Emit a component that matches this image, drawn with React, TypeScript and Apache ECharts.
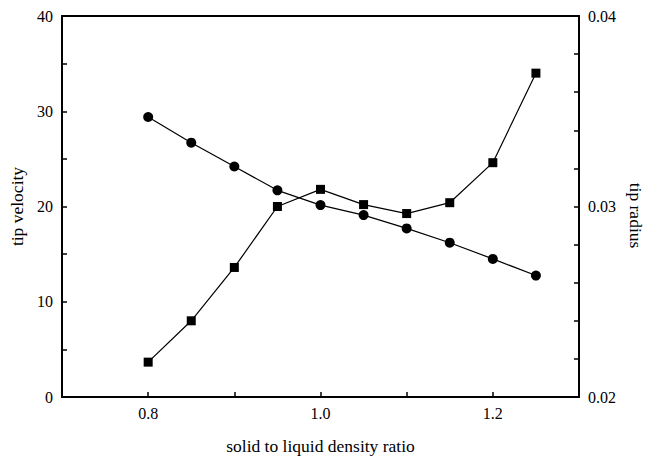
import React, { useEffect, useRef } from "react";
import * as echarts from "echarts";

const densityRatio = [0.8, 0.85, 0.9, 0.95, 1.0, 1.05, 1.1, 1.15, 1.2, 1.25];
const tipVelocity = [29.4, 26.7, 24.2, 21.7, 20.15, 19.1, 17.7, 16.2, 14.5, 12.75];
const tipRadius = [0.02183, 0.024, 0.0268, 0.03, 0.0309, 0.0301, 0.02963, 0.0302, 0.0323, 0.037];
const xLabels = ["0.8", "1.0", "1.2"];

const font = "Liberation Serif, Times New Roman, serif";

export default function App() {
  const ref = useRef<HTMLDivElement>(null);
  useEffect(() => {
    if (!ref.current) return;
    const chart = echarts.init(ref.current, null, { renderer: "svg" });
    const axisLine = { show: true, lineStyle: { color: "#000", width: 2 } };
    chart.setOption({
      animation: false,
      backgroundColor: "#fff",
      grid: { left: 62, right: 68, top: 16, bottom: 62, containLabel: false, outerBoundsMode: "none" },
      xAxis: [
        {
          type: "value",
          min: 0.7,
          max: 1.3,
          interval: 0.1,
          axisLine,
          axisTick: { show: true, inside: true, length: 5, lineStyle: { color: "#000", width: 1.5 } },
          splitLine: { show: false },
          axisLabel: {
            color: "#000",
            fontFamily: font,
            fontSize: 16,
            margin: 8,
            formatter: (v: number) => {
              const s = v.toFixed(1);
              return xLabels.includes(s) ? s : "";
            },
          },
          name: "solid to liquid density ratio",
          nameLocation: "middle",
          nameGap: 40,
          nameTextStyle: { color: "#000", fontFamily: font, fontSize: 17.5 },
        },
        {
          type: "value",
          position: "top",
          min: 0.7,
          max: 1.3,
          axisLine,
          axisTick: { show: false },
          axisLabel: { show: false },
          splitLine: { show: false },
        },
      ],
      yAxis: [
        {
          type: "value",
          min: 0,
          max: 40,
          interval: 10,
          position: "left",
          axisLine,
          axisTick: { show: true, inside: true, length: 5, lineStyle: { color: "#000", width: 1.5 } },
          minorTick: { show: true, splitNumber: 2, length: 5, lineStyle: { color: "#000", width: 1.5 } },
          splitLine: { show: false },
          axisLabel: { color: "#000", fontFamily: font, fontSize: 16, margin: 9 },
          name: "tip velocity",
          nameLocation: "middle",
          nameGap: 36,
          nameTextStyle: { color: "#000", fontFamily: font, fontSize: 17.5 },
        },
        {
          type: "value",
          min: 0.02,
          max: 0.04,
          interval: 0.01,
          position: "right",
          axisLine,
          axisTick: { show: true, inside: true, length: 5, lineStyle: { color: "#000", width: 1.5 } },
          minorTick: { show: true, splitNumber: 5, length: 5, lineStyle: { color: "#000", width: 1.5 } },
          splitLine: { show: false },
          axisLabel: {
            color: "#000",
            fontFamily: font,
            fontSize: 16,
            margin: 9,
            formatter: (v: number) => v.toFixed(2),
          },
          name: "tip radius",
          nameLocation: "middle",
          nameGap: 46,
          nameRotate: -90,
          nameTextStyle: { color: "#000", fontFamily: font, fontSize: 17.5, padding: [0, 0, 0, 18] },
        },
      ],
      series: [
        {
          name: "tip velocity",
          type: "line",
          xAxisIndex: 0,
          yAxisIndex: 0,
          data: densityRatio.map((x, i) => [x, tipVelocity[i]]),
          symbol: "circle",
          symbolSize: 10,
          lineStyle: { color: "#000", width: 1.2 },
          itemStyle: { color: "#000" },
        },
        {
          name: "tip radius",
          type: "line",
          xAxisIndex: 0,
          yAxisIndex: 1,
          data: densityRatio.map((x, i) => [x, tipRadius[i]]),
          symbol: "rect",
          symbolSize: 9,
          lineStyle: { color: "#000", width: 1.2 },
          itemStyle: { color: "#000" },
        },
      ],
    });
    return () => chart.dispose();
  }, []);
  return <div ref={ref} style={{ width: 647, height: 459, position: "absolute", left: 0, top: 0 }} />;
}
